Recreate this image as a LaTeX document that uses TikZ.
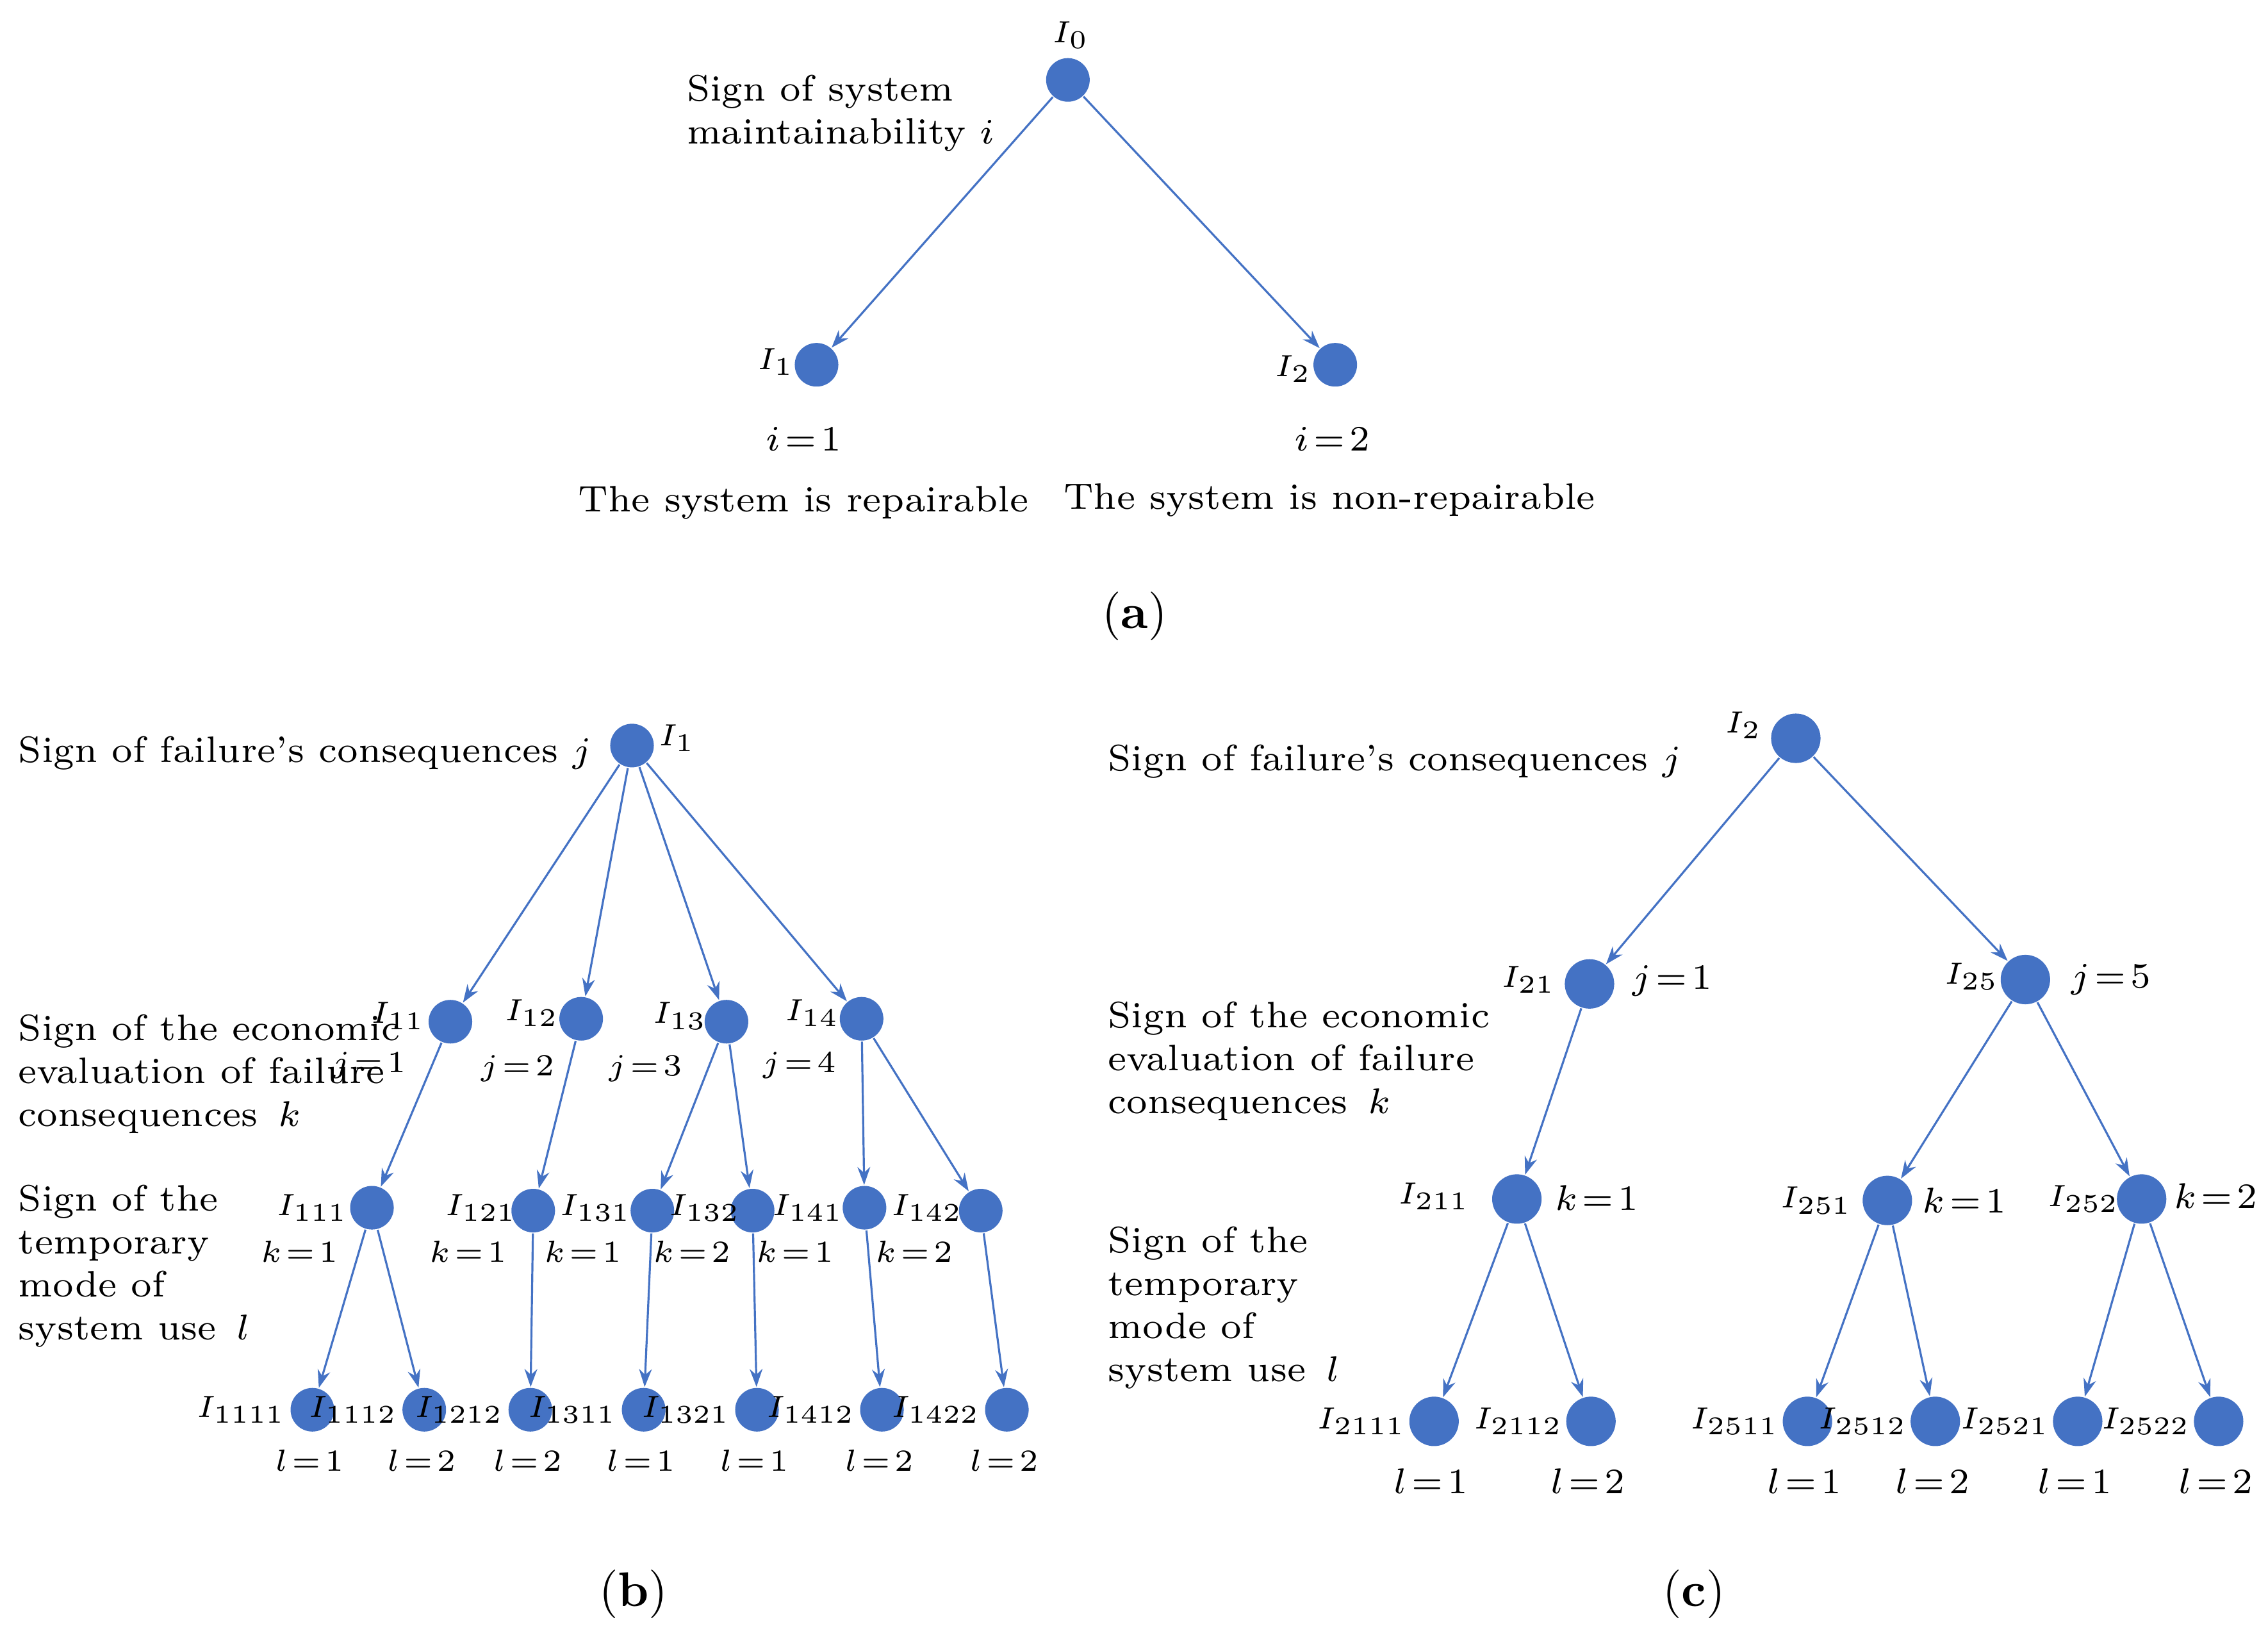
\documentclass[tikz,border=0pt]{standalone}
\usetikzlibrary{arrows.meta}
\definecolor{nb}{RGB}{68,114,196}
\newcommand{\eqq}{\mskip2mu{=}\mskip2mu}
\begin{document}
\begin{tikzpicture}[x=0.01cm,y=-0.01cm,font=\fontsize{7.2}{8.4}\selectfont,
 n/.style={circle,fill=nb,inner sep=0,minimum size=0.30cm},
 nc/.style={circle,fill=nb,inner sep=0,minimum size=0.34cm},
 e/.style={draw=nb,line width=0.4pt,-{Stealth[length=3.5pt,width=2.5pt]}},
 s/.style={font=\fontsize{6.3}{7}\selectfont,inner sep=0},
 t/.style={align=left,anchor=west,inner sep=0}]
\useasboundingbox (0,0) rectangle (1561,1122);
% (a)
\node[n] (a0) at (735,55) {}; \node[s] at (737,24) {$I_0$};
\node[n] (a1) at (562,251) {}; \node[s] at (534,249) {$I_1$};
\node[n] (a2) at (919,251) {}; \node[s] at (890,254) {$I_2$};
\draw[e] (a0)--(a1); \draw[e] (a0)--(a2);
\node[t] (ta) at (472,78) {Sign of system\\maintainability $i$};
\node (la1) at (553,302) {$i\eqq1$}; \node (la2) at (917,302) {$i\eqq2$};
\node (ra) at (553,346) {The system is repairable};
\node (nra) at (915,344) {The system is non-repairable};
\node (ca) at (781,424) {\fontsize{9.5}{11}\selectfont(\textbf{a})};
% (b)
\node[n] (b) at (435,513) {}; \node[s] at (466,508) {$I_1$};
\node[t] (tb1) at (12,518) {Sign of failure's consequences $j$};
\node[t] (tb2) at (12,739) {Sign of the economic\\evaluation of failure\\consequences\, $k$};
\node[t] (tb3) at (12,871) {Sign of the\\temporary\\mode of\\system use\, $l$};
\foreach \nm/\x/\y/\lab/\lx/\ly in {b11/310/703/11/274/699, b12/400/701/12/366/697, b13/500/703/13/468/699, b14/593/701/14/559/697}{
  \node[n] (\nm) at (\x,\y) {}; \node[s] at (\lx,\ly) {$I_{\lab}$}; \draw[e] (b)--(\nm);}
\node[s] at (254,733) {$j\eqq1$}; \node[s] at (356,735) {$j\eqq2$}; \node[s] at (444,735) {$j\eqq3$}; \node[s] at (550,733) {$j\eqq4$};
\foreach \nm/\x/\y/\lab/\lx/\pa/\kk in {b111/256/831/111/215/b11/1, b121/367/833/121/331/b12/1, b131/449/833/131/410/b13/1, b132/518/833/132/485/b13/2, b141/595/831/141/556/b14/1, b142/675/833/142/638/b14/2}{
  \node[n] (\nm) at (\x,\y) {}; \node[s] at (\lx,831) {$I_{\lab}$}; \draw[e] (\pa)--(\nm);
  \node[s] at (\lx-9,861) {$k\eqq\kk$};}
\foreach \nm/\x/\lab/\pa/\ll in {b1111/215/1111/b111/1, b1112/292/1112/b111/2, b1212/365/1212/b121/2, b1311/443/1311/b131/1, b1321/521/1321/b132/1, b1412/607/1412/b141/2, b1422/693/1422/b142/2}{
  \node[n] (\nm) at (\x,970) {}; \node[s] at (\x-49,970) {$I_{\lab}$}; \draw[e] (\pa)--(\nm);
  \node[s] at (\x-2,1005) {$l\eqq\ll$};}
\node (cb) at (436,1097) {\fontsize{9.5}{11}\selectfont(\textbf{b})};
% (c)
\node[nc] (c) at (1236,508) {}; \node[s] at (1200,499) {$I_2$};
\node[t] (tc1) at (762,524) {Sign of failure's consequences $j$};
\node[t] (tc2) at (762,730) {Sign of the economic\\evaluation of failure\\consequences\, $k$};
\node[t] (tc3) at (762,900) {Sign of the\\temporary\\mode of\\system use\, $l$};
\node[nc] (c21) at (1094,677) {}; \node[s] at (1052,674) {$I_{21}$}; \node at (1151,675) {$j\eqq1$};
\node[nc] (c25) at (1394,674) {}; \node[s] at (1357,672) {$I_{25}$}; \node at (1453,674) {$j\eqq5$};
\draw[e] (c)--(c21); \draw[e] (c)--(c25);
\node[nc] (c211) at (1044,825) {}; \node[s] at (987,823) {$I_{211}$}; \node at (1099,824) {$k\eqq1$};
\node[nc] (c251) at (1299,826) {}; \node[s] at (1250,826) {$I_{251}$}; \node at (1352,826) {$k\eqq1$};
\node[nc] (c252) at (1474,825) {}; \node[s] at (1434,825) {$I_{252}$}; \node at (1525,823) {$k\eqq2$};
\draw[e] (c21)--(c211); \draw[e] (c25)--(c251); \draw[e] (c25)--(c252);
\foreach \nm/\x/\lab/\pa/\ll in {c2111/987/2111/c211/1, c2112/1095/2112/c211/2, c2511/1244/2511/c251/1, c2512/1332/2512/c251/2, c2521/1430/2521/c252/1, c2522/1527/2522/c252/2}{
  \node[nc] (\nm) at (\x,978) {}; \node[s] at (\x-50,978) {$I_{\lab}$}; \draw[e] (\pa)--(\nm);
  \node at (\x-2,1019) {$l\eqq\ll$};}
\node (cc) at (1166,1097) {\fontsize{9.5}{11}\selectfont(\textbf{c})};
\end{tikzpicture}
\end{document}
